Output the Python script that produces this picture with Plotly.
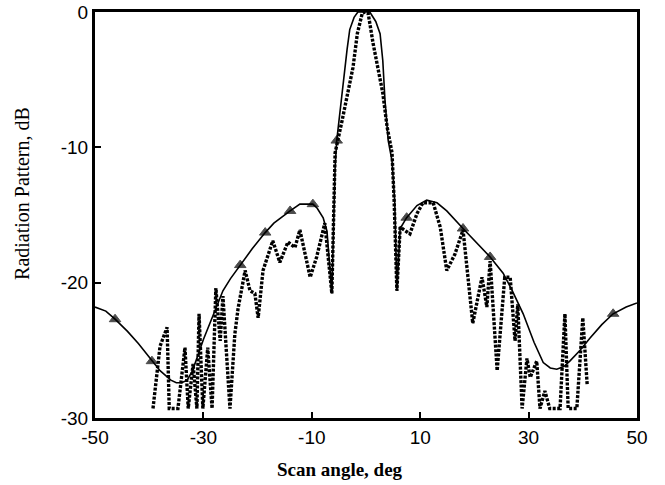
import plotly.graph_objects as go

# Solid (computed) pattern: scan angle (deg) and level (dB)
sim_angle = [-50, -48, -46.3, -44, -42, -39.5, -38, -36, -35, -34, -33, -32, -31, -30, -28,
             -26.4, -25, -23.2, -21, -18.6, -17, -14, -13, -12.2, -9.8, -9, -7.9, -7.2, -6.3,
             -6.0, -5.7, -5.4, -4.8, -4.2, -3.5, -3.0, -2.2, -1.5, 0, 0.7, 1.8, 2.6, 3.1, 3.5,
             4.1, 4.8, 5.3, 5.7, 6.3, 7.5, 9.4, 11.2, 13.1, 14.9, 17.9, 20, 22.9, 25.3, 27,
             29, 31, 32.7, 34, 35.2, 36.5, 37.6, 39.5, 41.3, 43.5, 45.6, 48, 50]
sim_db = [-21.8, -22.1, -22.7, -23.6, -24.5, -25.8, -26.5, -27.2, -27.4, -27.4, -27.2, -26.5,
          -25.4, -24.2, -22.2, -20.6, -19.7, -18.7, -17.5, -16.3, -15.6, -14.7, -14.4, -14.2,
          -14.2, -14.5, -15.2, -16.2, -20.8, -15.0, -11.5, -9.5, -7.3, -5.3, -2.8, -1.3, -0.4,
          0.0, 0.0, 0.0, -0.7, -1.6, -3.6, -6.5, -9.5, -11.0, -14.0, -20.6, -16.0, -15.2,
          -14.3, -13.9, -14.1, -14.7, -16.0, -16.9, -18.1, -19.3, -20.6, -22.3, -24.4, -25.9,
          -26.3, -26.4, -26.2, -25.8, -25.0, -24.1, -23.1, -22.3, -21.8, -21.5]
# points of the solid curve that carry a triangle marker
sim_marked = [-46.3, -39.5, -23.2, -18.6, -14, -9.8, -5.4, 7.5, 17.9, 22.9, 45.6]

# Dotted (measured) pattern
meas_angle = [-39.3, -38.0, -36.7, -36.3, -34.7, -33.4, -32.8, -31.9, -31.2, -30.8, -30.1,
              -29.2, -28.4, -27.7, -26.9, -26.4, -25.1, -24.2, -23.6, -22.3, -21.4, -20.5,
              -19.9, -19.0, -17.2, -15.9, -14.4, -13.1, -12.2, -10.3, -9.1, -7.6, -6.3, -5.9,
              -5.7, -4.4, -3.3, -2.4, -1.6, -0.7, -0.2, 0.4, 1.3, 2.2, 3.1, 3.9, 4.8, 5.2, 5.7,
              6.3, 8.1, 9.4, 10.5, 12.4, 13.7, 14.9, 16.4, 17.9, 18.6, 19.7, 21.4, 22.3, 22.9,
              24.2, 25.6, 26.6, 27.5, 28.0, 28.8, 29.7, 30.3, 31.5, 32.1, 33.0, 33.9, 35.8,
              36.7, 37.3, 38.9, 40.0, 40.8]
meas_db = [-29.3, -24.7, -23.3, -29.3, -29.3, -24.8, -29.3, -26.0, -29.3, -22.3, -29.3,
           -24.8, -29.3, -20.4, -24.3, -21.0, -29.3, -23.8, -21.9, -19.1, -20.6, -20.8,
           -22.6, -19.1, -16.9, -18.5, -17.0, -17.4, -16.1, -19.6, -18.1, -15.6, -20.8, -14.0,
           -10.4, -8.0, -6.0, -4.1, -1.6, -0.1, 0.0, -0.1, -2.3, -4.1, -6.0, -8.5, -10.4,
           -14.0, -20.6, -15.9, -16.4, -14.9, -14.1, -14.1, -15.9, -19.1, -17.9, -16.1,
           -18.6, -23.0, -19.6, -21.8, -18.4, -26.5, -19.6, -19.6, -24.3, -21.6, -29.3,
           -25.6, -27.0, -25.8, -29.3, -28.0, -29.3, -29.3, -22.3, -29.3, -29.3, -22.6, -27.5]

x_ticks = [-50, -30, -10, 10, 30, 50]
y_ticks = [0, -10, -20, -30]
x_title = "Scan angle, deg"
y_title = "Radiation Pattern, dB"

marker_sizes = [10 if a in sim_marked else 0 for a in sim_angle]

fig = go.Figure()
fig.add_trace(go.Scatter(
    x=meas_angle, y=meas_db, mode="lines",
    line=dict(color="black", width=3.4, dash="3px,1.5px"),
    showlegend=False, hoverinfo="skip"))
fig.add_trace(go.Scatter(
    x=sim_angle, y=sim_db, mode="lines+markers",
    line=dict(color="black", width=1.6),
    marker=dict(symbol="triangle-up", size=marker_sizes, color="black",
                line=dict(color="black", width=1)),
    showlegend=False, hoverinfo="skip"))

tick_font = dict(family="Liberation Sans Narrow, Liberation Sans, Arial", size=19, color="black")
serif = "Liberation Serif, Times New Roman, serif"

fig.update_layout(
    width=665, height=485,
    margin=dict(l=95, r=28, t=12, b=67),
    paper_bgcolor="white", plot_bgcolor="white",
    annotations=[
        dict(text="<b>" + x_title + "</b>", xref="paper", yref="paper",
             x=0.452, y=-0.128, xanchor="center", yanchor="middle", showarrow=False,
             font=dict(family=serif, size=19, color="black")),
        dict(text=y_title, xref="paper", yref="paper", textangle=-90,
             x=-0.135, y=0.554, xanchor="center", yanchor="middle", showarrow=False,
             font=dict(family=serif, size=20, color="black")),
    ],
)
fig.update_xaxes(
    range=[-50, 50], tickvals=x_ticks, ticktext=[str(v) for v in x_ticks],
    showgrid=False, zeroline=False, showline=True, linecolor="black", linewidth=3,
    mirror=True, ticks="inside", ticklen=6, tickwidth=1.5, tickcolor="black",
    tickfont=tick_font, automargin=False,
)
fig.update_yaxes(
    range=[-30, 0], tickvals=y_ticks, ticktext=[str(v) for v in y_ticks],
    showgrid=False, zeroline=False, showline=True, linecolor="black", linewidth=3,
    mirror=True, ticks="inside", ticklen=6, tickwidth=1.5, tickcolor="black",
    tickfont=tick_font, automargin=False,
)

fig.write_html("out.html")
